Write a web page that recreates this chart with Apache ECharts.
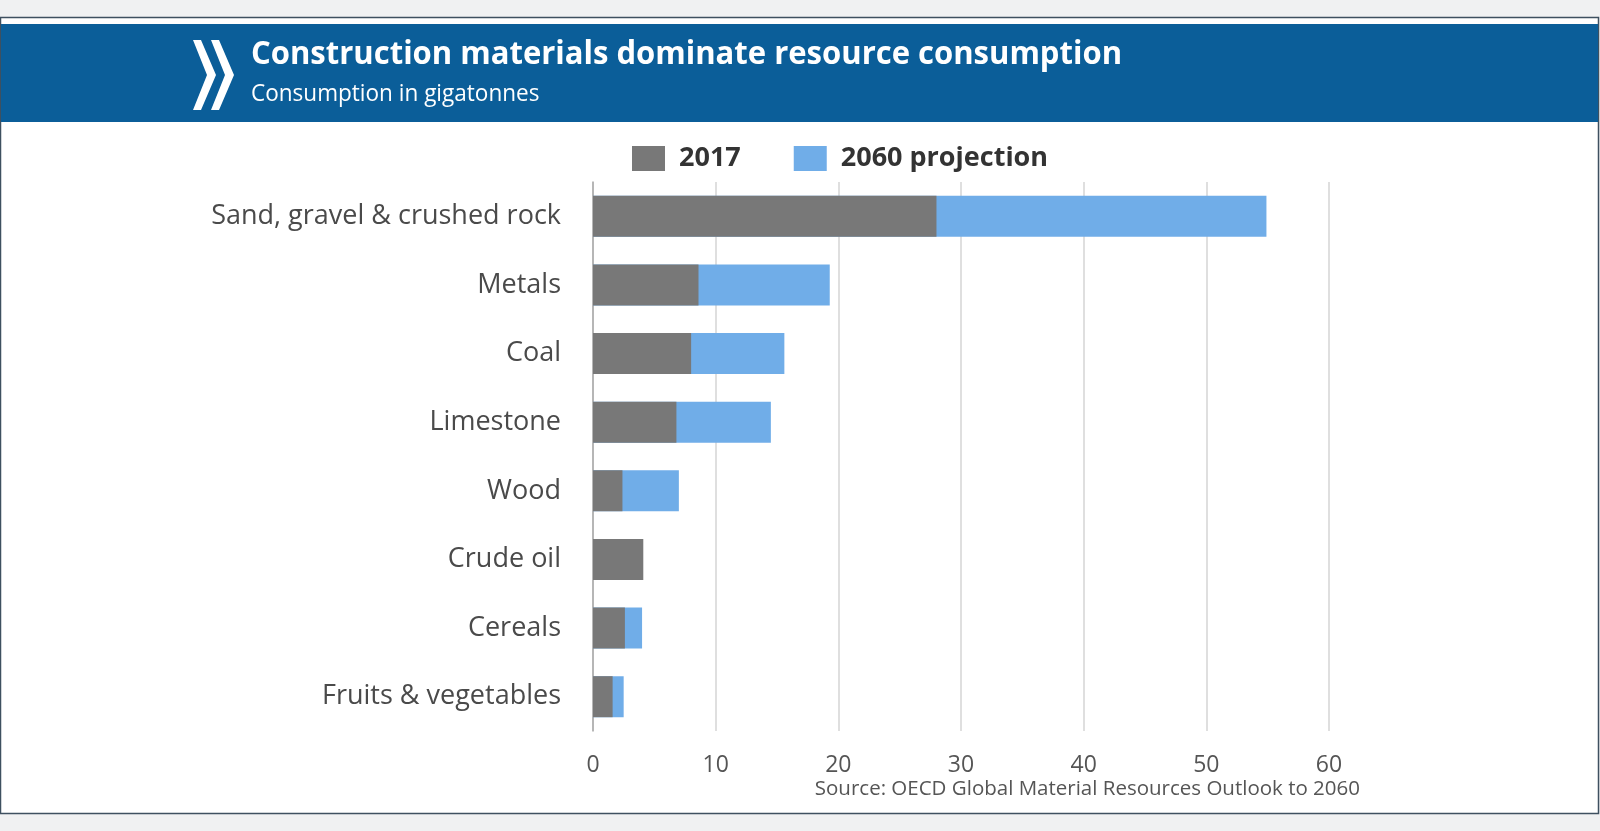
<!DOCTYPE html>
<html>
<head>
<meta charset="utf-8">
<script src="https://cdn.jsdelivr.net/npm/echarts@6/dist/echarts.min.js"></script>
<style>
html,body{margin:0;padding:0;background:#f0f1f2;}
#main{width:1600px;height:831px;}
</style>
</head>
<body>
<div id="main"></div>
<script>
var categories = ['Sand, gravel & crushed rock','Metals','Coal','Limestone','Wood','Crude oil','Cereals','Fruits & vegetables'];
var values2017 = [28, 8.6, 8.0, 6.8, 2.4, 4.1, 2.6, 1.6];
var values2060 = [54.9, 19.3, 15.6, 14.5, 7.0, null, 4.0, 2.5];
var xTicks = [0, 10, 20, 30, 40, 50, 60];
var titleText = 'Construction materials dominate resource consumption';
var subtitleText = 'Consumption in gigatonnes';
var sourceText = 'Source: OECD Global Material Resources Outlook to 2060';

var chart = echarts.init(document.getElementById('main'));
var option = {
  backgroundColor: '#f0f1f2',
  animation: false,
  graphic: [
    {type:'rect', z:-10, shape:{x:0.5,y:17.5,width:1598,height:796}, style:{fill:'#ffffff', stroke:'#3e5060', lineWidth:1.5}},
    {type:'rect', z:-9, shape:{x:1,y:24,width:1597,height:98}, style:{fill:'#0b5e99'}},
    {type:'polygon', z:-8, shape:{points:[[193,40],[201,40],[216,75],[201,110],[193,110],[207,75]]}, style:{fill:'#ffffff'}},
    {type:'polygon', z:-8, shape:{points:[[211,40],[219,40],[234,75],[219,110],[211,110],[225,75]]}, style:{fill:'#ffffff'}},
    {type:'text', x:251, y:38, scaleX:0.94, style:{text:titleText, fill:'#ffffff', font:'bold 33px "Open Sans", sans-serif'}},
    {type:'text', x:251, y:83, scaleX:0.98, style:{text:subtitleText, fill:'#ffffff', font:'23px "Open Sans", sans-serif'}},
    {type:'text', right:240, top:779, style:{text:sourceText, fill:'#555555', font:'20.5px "Open Sans", sans-serif'}}
  ],
  legend: {
    data: ['2017', '2060 projection'],
    left: 627,
    top: 140,
    itemWidth: 33,
    itemHeight: 25,
    itemGap: 53,
    icon: 'rect',
    textStyle: {fontSize: 27, fontWeight: 'bold', color: '#333', fontFamily: '"Open Sans", sans-serif', padding: [0,0,0,9]}
  },
  grid: {left: 593, right: 271, top: 182, bottom: 100},
  xAxis: {
    type: 'value',
    min: xTicks[0],
    max: xTicks[xTicks.length-1],
    interval: 10,
    axisLine: {show: false},
    axisTick: {show: false},
    splitLine: {lineStyle: {color: '#d4d4d4', width: 1.5}},
    axisLabel: {fontSize: 23, color: '#555', fontFamily: '"Open Sans", sans-serif', margin: 23}
  },
  yAxis: {
    type: 'category',
    data: categories,
    inverse: true,
    axisLine: {lineStyle: {color: '#a8a8a8', width: 1.5}},
    axisTick: {length: 22, lineStyle: {color: '#a8a8a8', width: 1.5}},
    axisLabel: {fontSize: 27, color: '#4a4a4a', fontFamily: '"Open Sans", sans-serif', margin: 32}
  },
  series: [
    {name: '2060 projection', type: 'bar', data: values2060, barWidth: 41, itemStyle: {color: '#70ade8'}},
    {name: '2017', type: 'bar', data: values2017, barWidth: 41, barGap: '-100%', itemStyle: {color: '#787878'}}
  ]
};
chart.setOption(option);
</script>
</body>
</html>
